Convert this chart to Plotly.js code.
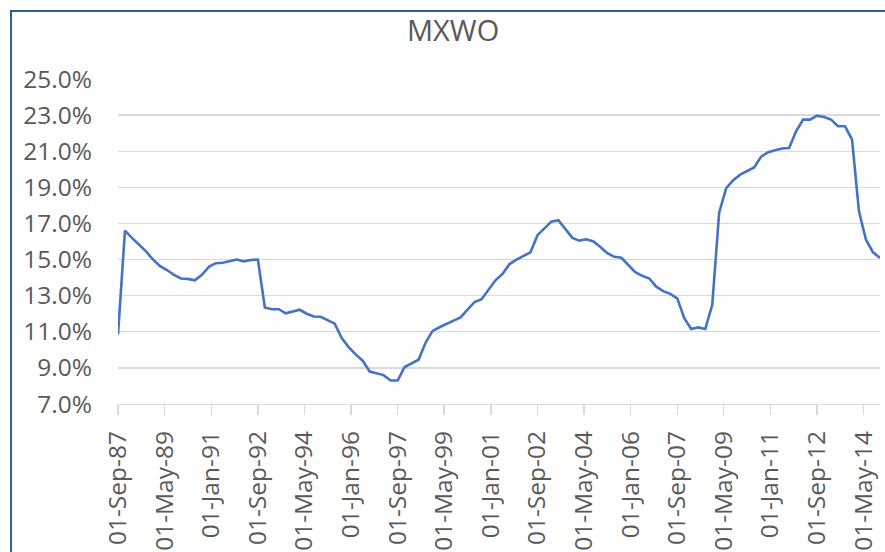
<!DOCTYPE html>
<html>
<head>
<meta charset="utf-8">
<script src="https://cdn.plot.ly/plotly-3.0.1.min.js"></script>
<style>
html,body{margin:0;padding:0;background:#fff;}
#wrap{position:relative;width:885px;height:552px;overflow:hidden;}
#chart{position:absolute;left:0;top:0;width:885px;height:552px;}
#frame{position:absolute;left:10px;top:10px;width:900px;height:560px;border-top:2px solid #2f5f8a;border-left:2px solid #2f5f8a;pointer-events:none;}
</style>
</head>
<body>
<div id="wrap"><div id="chart"></div><div id="frame"></div></div>
<script>
const chartTitle = "MXWO";

const dates = [
  "1987-09","1987-12",
  "1988-03","1988-06","1988-09","1988-12",
  "1989-03","1989-06","1989-09","1989-12",
  "1990-03","1990-06","1990-09","1990-12",
  "1991-03","1991-06","1991-09","1991-12",
  "1992-03","1992-06","1992-09","1992-12",
  "1993-03","1993-06","1993-09","1993-12",
  "1994-03","1994-06","1994-09","1994-12",
  "1995-03","1995-06","1995-09","1995-12",
  "1996-03","1996-06","1996-09","1996-12",
  "1997-03","1997-06","1997-09","1997-12",
  "1998-03","1998-06","1998-09","1998-12",
  "1999-03","1999-06","1999-09","1999-12",
  "2000-03","2000-06","2000-09","2000-12",
  "2001-03","2001-06","2001-09","2001-12",
  "2002-03","2002-06","2002-09","2002-12",
  "2003-03","2003-06","2003-09","2003-12",
  "2004-03","2004-06","2004-09","2004-12",
  "2005-03","2005-06","2005-09","2005-12",
  "2006-03","2006-06","2006-09","2006-12",
  "2007-03","2007-06","2007-09","2007-12",
  "2008-03","2008-06","2008-09","2008-12",
  "2009-03","2009-06","2009-09","2009-12",
  "2010-03","2010-06","2010-09","2010-12",
  "2011-03","2011-06","2011-09","2011-12",
  "2012-03","2012-06","2012-09","2012-12",
  "2013-03","2013-06","2013-09","2013-12",
  "2014-03","2014-06","2014-09","2014-12"
];

// volatility, percent
const mxwo = [
  10.85,16.6,
  16.2,15.85,15.45,15.0,
  14.65,14.42,14.15,13.95,
  13.93,13.85,14.15,14.6,
  14.8,14.82,14.92,15.0,
  14.9,14.98,15.0,12.35,
  12.25,12.25,12.02,12.1,
  12.22,12.0,11.85,11.83,
  11.65,11.45,10.65,10.15,
  9.75,9.4,8.8,8.7,
  8.6,8.3,8.3,9.05,
  9.25,9.45,10.4,11.05,
  11.25,11.45,11.62,11.8,
  12.2,12.65,12.8,13.35,
  13.85,14.2,14.75,15.0,
  15.2,15.4,16.35,16.7,
  17.1,17.18,16.7,16.2,
  16.05,16.12,16.0,15.7,
  15.35,15.15,15.1,14.7,
  14.3,14.1,13.95,13.5,
  13.25,13.1,12.85,11.75,
  11.15,11.24,11.15,12.5,
  17.6,18.95,19.4,19.7,
  19.9,20.1,20.7,20.95,
  21.05,21.15,21.18,22.1,
  22.75,22.75,22.97,22.9,
  22.75,22.38,22.38,21.64,
  17.67,16.1,15.4,15.09
];

const xTickVals = ["1987-09-01","1989-05-01","1991-01-01","1992-09-01","1994-05-01","1996-01-01",
  "1997-09-01","1999-05-01","2001-01-01","2002-09-01","2004-05-01","2006-01-01",
  "2007-09-01","2009-05-01","2011-01-01","2012-09-01","2014-05-01"];
const xTickText = ["01-Sep-87","01-May-89","01-Jan-91","01-Sep-92","01-May-94","01-Jan-96",
  "01-Sep-97","01-May-99","01-Jan-01","01-Sep-02","01-May-04","01-Jan-06",
  "01-Sep-07","01-May-09","01-Jan-11","01-Sep-12","01-May-14"];
const yTickVals = [7,9,11,13,15,17,19,21,23,25];
const yTickText = ["7.0%","9.0%","11.0%","13.0%","15.0%","17.0%","19.0%","21.0%","23.0%","25.0%"];

const font = "Open Sans, Noto Sans, sans-serif";
const grey = "#595959";

Plotly.newPlot("chart", [{
  x: dates, y: mxwo, type: "scatter", mode: "lines",
  line: {color: "#4472C4", width: 2.6},
  hoverinfo: "skip"
}], {
  width: 885, height: 552,
  margin: {l: 118, r: 5, t: 79, b: 148, pad: 0},
  paper_bgcolor: "#fff", plot_bgcolor: "#fff",
  showlegend: false,
  title: {text: chartTitle, font: {family: font, size: 29, color: grey},
    x: 0.512, xref: "container", xanchor: "center",
    y: 0.944, yref: "container", yanchor: "middle"},
  xaxis: {
    type: "date", range: ["1987-09-01", "2014-12-01"],
    tickmode: "array", tickvals: xTickVals, ticktext: xTickText,
    tickangle: -90, ticks: "outside", ticklen: 10, tickcolor: "#d9d9d9", tickwidth: 1.3,
    showline: true, linecolor: "#d9d9d9", linewidth: 1.3,
    showgrid: false, zeroline: false,
    tickfont: {family: font, size: 24.5, color: grey},
    ticklabelstandoff: 6
  },
  yaxis: {
    range: [7, 25], tickmode: "array", tickvals: yTickVals, ticktext: yTickText,
    showgrid: true, gridcolor: "#d9d9d9", gridwidth: 1.3,
    zeroline: false, showline: false, ticks: "",
    tickfont: {family: font, size: 24.5, color: grey},
    ticklabelstandoff: 25
  }
}, {staticPlot: true, displayModeBar: false});
</script>
</body>
</html>
